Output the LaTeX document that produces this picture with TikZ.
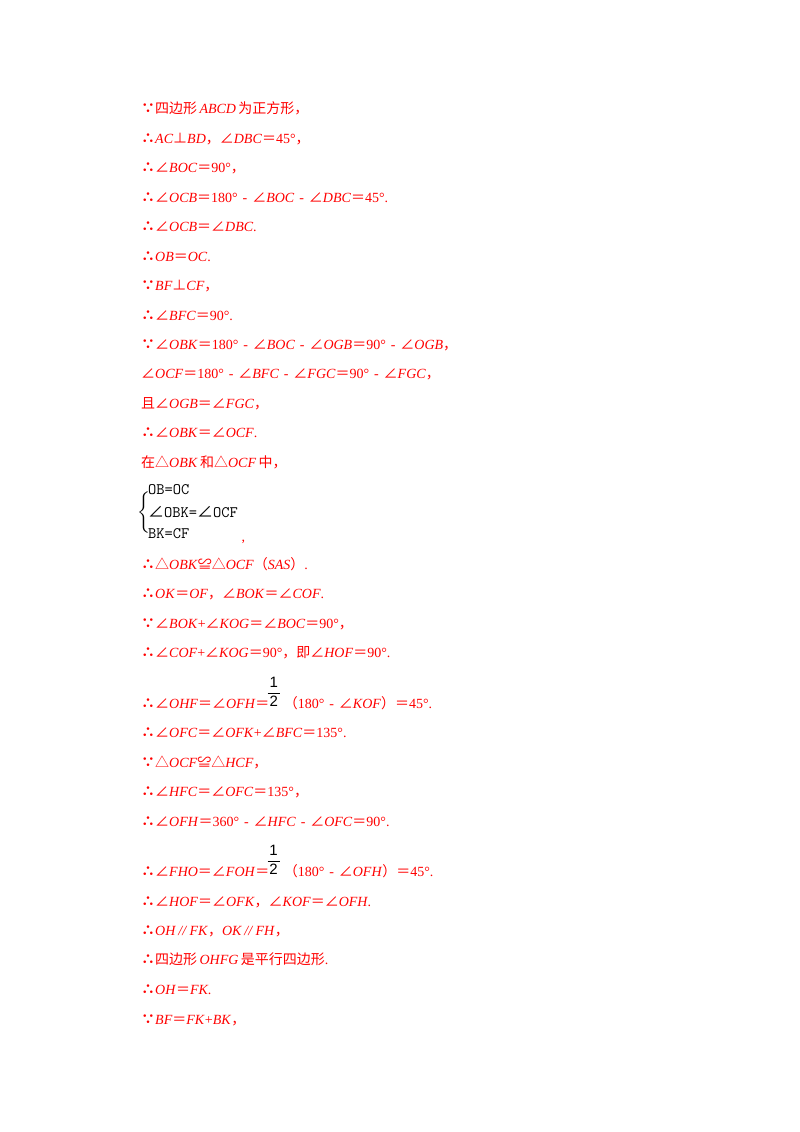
\documentclass[tikz,border=0pt]{standalone}
\usepackage{amsmath}
\usepackage{fontspec}
\setmainfont{Liberation Serif}
\setsansfont{Liberation Sans}
\newfontfamily\cjk{Noto Sans CJK SC}
\newcommand{\cn}[1]{{\cjk #1}}
\newcommand{\I}[1]{\textit{#1}}
\newcommand{\So}{{\cjk\bfseries ∴}}
\newcommand{\Since}{{\cjk\bfseries ∵}}
\newcommand{\mn}{\makebox[14.5pt]{-}}
\newcommand{\half}{\hspace{-3pt}\raisebox{11pt}{\color{black}\fontsize{15pt}{16pt}\selectfont$\displaystyle\frac{\makebox[12pt]{\sffamily 1}}{\makebox[12pt]{\sffamily 2}}$}\hspace{3pt}}
\tikzset{
    x=1pt, y=1pt,
    proof/.style={anchor=base west, inner sep=0pt, text=red, font=\fontsize{14pt}{16pt}\selectfont},
    system/.style={anchor=west, inner sep=0pt, text=black, font=\fontsize{16pt}{18pt}\selectfont\ttfamily},
}
\begin{document}
\begin{tikzpicture}
        \useasboundingbox (0,0) rectangle (800,-1132);

        % Lines before the system
        \node[proof] (line1) at (141,-113) {\Since\cn{四边形}\,\I{ABCD}\,\cn{为正方形，}};
        \node[proof] (line2) at (141,-143) {\So\I{AC}\cn{⊥}\I{BD}\cn{，∠}\I{DBC}\cn{＝}45°\cn{，}};
        \node[proof] (line3) at (141,-172) {\So\cn{∠}\I{BOC}\cn{＝}90°\cn{，}};
        \node[proof] (line4) at (141,-202) {\So\cn{∠}\I{OCB}\cn{＝}180°\mn\cn{∠}\I{BOC}\mn\cn{∠}\I{DBC}\cn{＝}45°.};
        \node[proof] (line5) at (141,-231) {\So\cn{∠}\I{OCB}\cn{＝∠}\I{DBC}.};
        \node[proof] (line6) at (141,-261) {\So\I{OB}\cn{＝}\I{OC}.};
        \node[proof] (line7) at (141,-290) {\Since\I{BF}\cn{⊥}\I{CF}\cn{，}};
        \node[proof] (line8) at (141,-320) {\So\cn{∠}\I{BFC}\cn{＝}90°.};
        \node[proof] (line9) at (141,-349) {\Since\cn{∠}\I{OBK}\cn{＝}180°\mn\cn{∠}\I{BOC}\mn\cn{∠}\I{OGB}\cn{＝}90°\mn\cn{∠}\I{OGB}\cn{，}};
        \node[proof] (line10) at (141,-378) {\cn{∠}\I{OCF}\cn{＝}180°\mn\cn{∠}\I{BFC}\mn\cn{∠}\I{FGC}\cn{＝}90°\mn\cn{∠}\I{FGC}\cn{，}};
        \node[proof] (line11) at (141,-408) {\cn{且∠}\I{OGB}\cn{＝∠}\I{FGC}\cn{，}};
        \node[proof] (line12) at (141,-437) {\So\cn{∠}\I{OBK}\cn{＝∠}\I{OCF}.};
        \node[proof] (line13) at (141,-467) {\cn{在△}\I{OBK}\,\cn{和△}\I{OCF}\,\cn{中，}};

        % The system with its brace
        \node[system] (brace) at (137,-512) {$\left\{\rule{0pt}{26pt}\right.$};
        \node[system] (sys1) at (148,-490) {OB=OC};
        \node[system] (sys2) at (148,-512) {\cn{∠}OBK=\cn{∠}OCF};
        \node[system] (sys3) at (148,-534) {BK=CF};
        \node[proof] (syscomma) at (241.5,-541) {,};

        % Lines after the system
        \node[proof] (line14) at (141,-569) {\So\cn{△}\I{OBK}\cn{≌△}\I{OCF}\cn{（}\I{SAS}\cn{）}.};
        \node[proof] (line15) at (141,-598) {\So\I{OK}\cn{＝}\I{OF}\cn{，∠}\I{BOK}\cn{＝∠}\I{COF}.};
        \node[proof] (line16) at (141,-628) {\Since\cn{∠}\I{BOK}+\cn{∠}\I{KOG}\cn{＝∠}\I{BOC}\cn{＝}90°\cn{，}};
        \node[proof] (line17) at (141,-657) {\So\cn{∠}\I{COF}+\cn{∠}\I{KOG}\cn{＝}90°\cn{，即∠}\I{HOF}\cn{＝}90°.};
        \node[proof] (line18) at (141,-708) {\So\cn{∠}\I{OHF}\cn{＝∠}\I{OFH}\cn{＝}\half\cn{（}180°\mn\cn{∠}\I{KOF}\cn{）＝}45°.};
        \node[proof] (line19) at (141,-737) {\So\cn{∠}\I{OFC}\cn{＝∠}\I{OFK}+\cn{∠}\I{BFC}\cn{＝}135°.};
        \node[proof] (line20) at (141,-767) {\Since\cn{△}\I{OCF}\cn{≌△}\I{HCF}\cn{，}};
        \node[proof] (line21) at (141,-796) {\So\cn{∠}\I{HFC}\cn{＝∠}\I{OFC}\cn{＝}135°\cn{，}};
        \node[proof] (line22) at (141,-826) {\So\cn{∠}\I{OFH}\cn{＝}360°\mn\cn{∠}\I{HFC}\mn\cn{∠}\I{OFC}\cn{＝}90°.};
        \node[proof] (line23) at (141,-876) {\So\cn{∠}\I{FHO}\cn{＝∠}\I{FOH}\cn{＝}\half\cn{（}180°\mn\cn{∠}\I{OFH}\cn{）＝}45°.};
        \node[proof] (line24) at (141,-906) {\So\cn{∠}\I{HOF}\cn{＝∠}\I{OFK}\cn{，∠}\I{KOF}\cn{＝∠}\I{OFH}.};
        \node[proof] (line25) at (141,-935) {\So\I{OH}\,\I{//}\,\I{FK}\cn{，}\I{OK}\,\I{//}\,\I{FH}\cn{，}};
        \node[proof] (line26) at (141,-964) {\So\cn{四边形}\,\I{OHFG}\,\cn{是平行四边形}.};
        \node[proof] (line27) at (141,-994) {\So\I{OH}\cn{＝}\I{FK}.};
        \node[proof] (line28) at (141,-1024) {\Since\I{BF}\cn{＝}\I{FK}+\I{BK}\cn{，}};

    \end{tikzpicture}
\end{document}
